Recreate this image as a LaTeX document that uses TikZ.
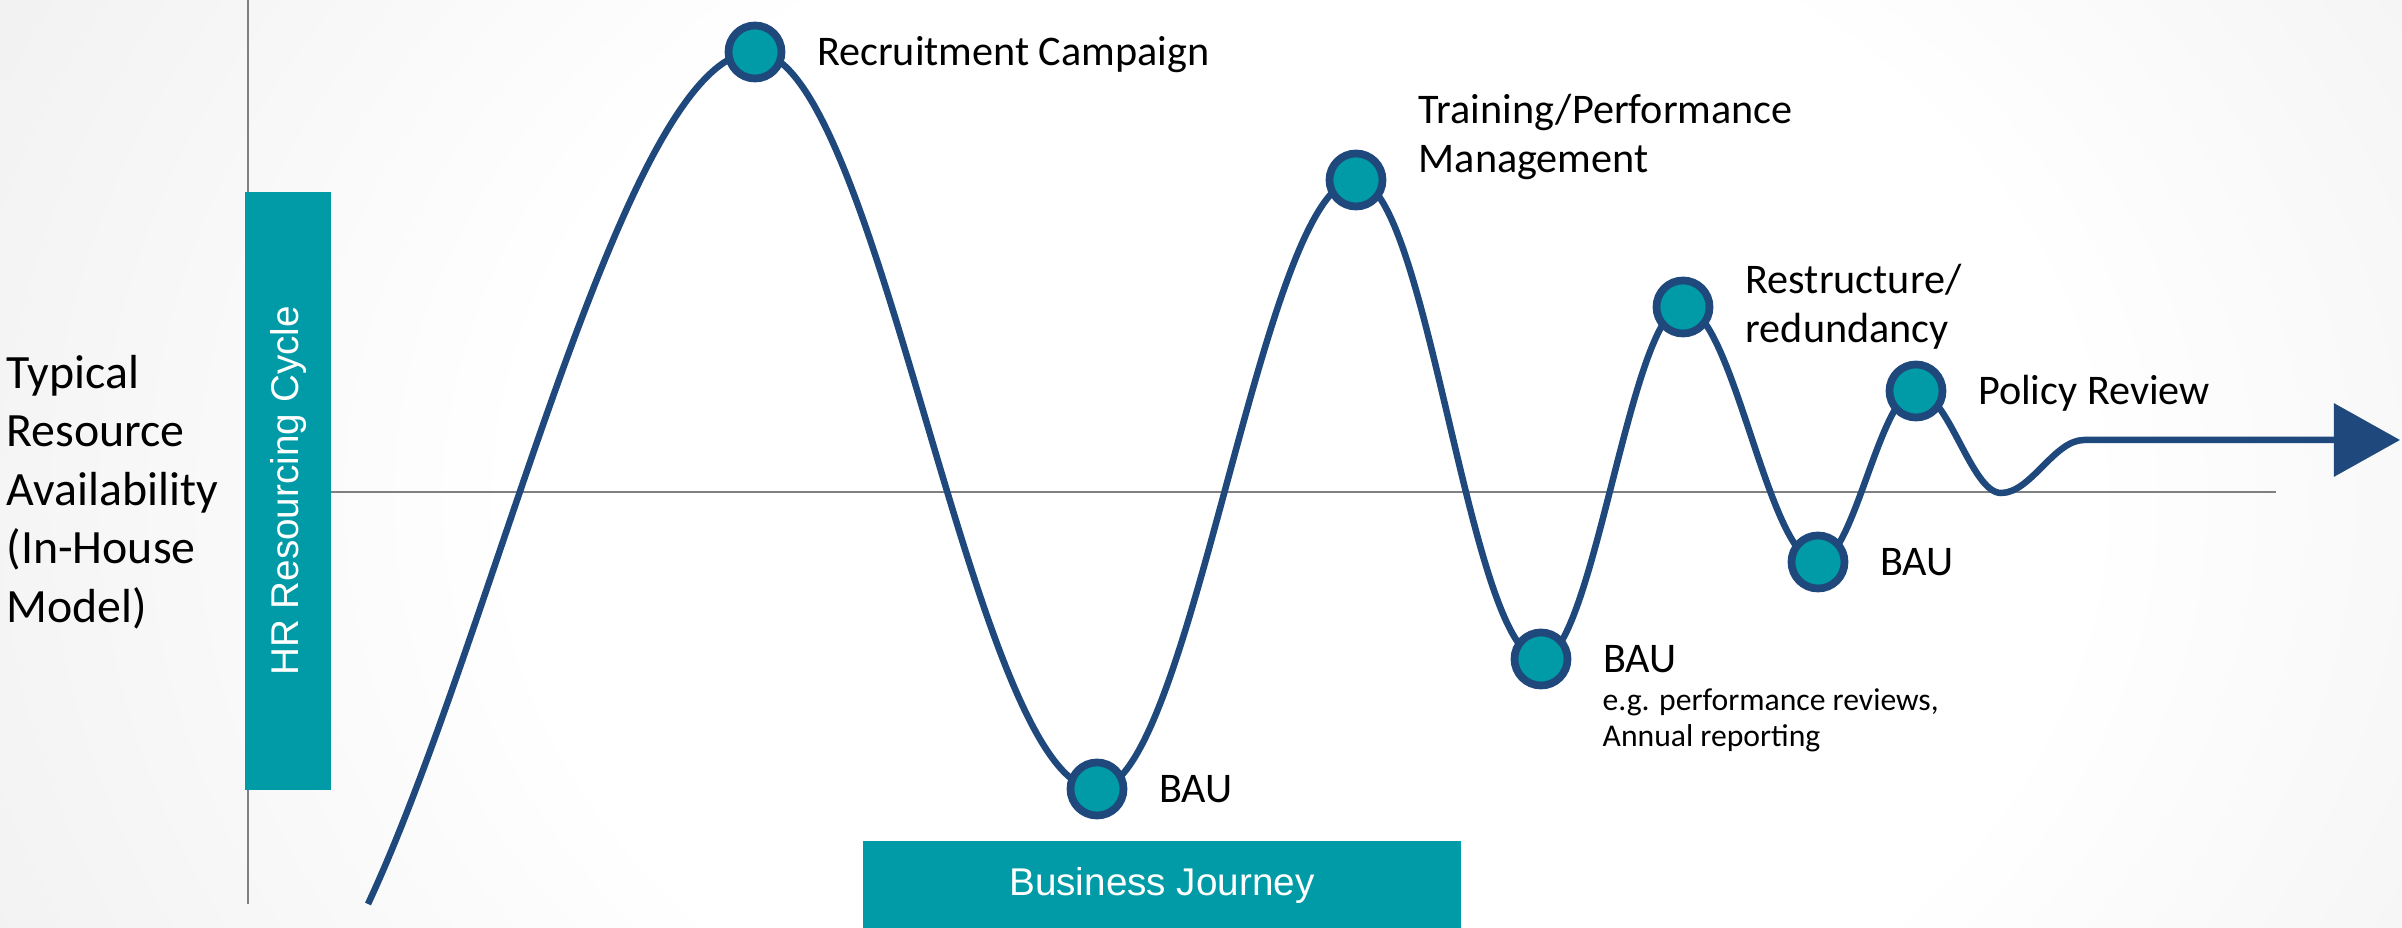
\documentclass[tikz,border=0pt]{standalone}
\usepackage{fontspec}
\setmainfont{Carlito}
\newfontfamily\arialfont{Liberation Sans}
\usetikzlibrary{positioning}
\usetikzlibrary{arrows.meta}
\usetikzlibrary{backgrounds}
\definecolor{journeyblue}{RGB}{31,73,125}
\definecolor{milestoneteal}{RGB}{0,155,166}
\definecolor{axisgray}{RGB}{128,128,128}
\definecolor{fadegray}{RGB}{214,214,214}
\pgfdeclareradialshading{pagefade}{\pgfpoint{0bp}{0bp}}{color(0bp)=(white); color(14bp)=(white); color(50bp)=(fadegray)}
\tikzset{milestone/.style={ % Teal dots sitting on the curve
      circle, draw=journeyblue, fill=milestoneteal,
      line width=2.2pt, minimum size=0.53cm, inner sep=0pt},
      stage/.style={inner sep=0pt, align=left, font=\fontsize{12}{14.2}\selectfont},
      caplabel/.style={stage, text height=7.7pt, text depth=0pt}, % Centres the capitals on the dot
      band/.style={fill=milestoneteal, text=white, inner sep=0pt,
      font=\arialfont\fontsize{11}{13}\selectfont},
      axisline/.style={draw=axisgray, line width=0.65pt},
      journey/.style={draw=journeyblue, line width=1.85pt,
      -{Triangle[length=0.66cm, width=0.72cm]}}}

\begin{document}
\begin{tikzpicture}[x=0.01cm, y=-0.01cm] % One unit is one pixel, y runs downwards
      \useasboundingbox (0,0) rectangle (2402,928);
      \begin{scope}[on background layer]
            \clip (0,0) rectangle (2402,928);
            \shade[shading=pagefade] (-100,-600) rectangle (2700,1600);
            \draw[axisline] (248,0) -- (248,904);
            \draw[axisline] (331,492) -- (2276,492);
      \end{scope}
      \node[band, rotate=90, minimum width=5.98cm, minimum height=0.86cm] (hrbox) at (288,491) {HR Resourcing Cycle};
      \node[band, minimum width=5.97cm, minimum height=0.88cm] (journeybox) at (1162,885) {Business Journey};
      \node[anchor=west, align=left, inner sep=0pt, font=\fontsize{13.6}{16.6}\selectfont] (ylabel) at (6,492)
            {Typical\\Resource\\Availability\\(In-House\\Model)};
      \coordinate (start) at (368,904);
      \node[milestone] (recruit) at (755,52) {};
      \node[milestone] (bau1) at (1097,789) {};
      \node[milestone] (training) at (1356,180) {};
      \node[milestone] (bau2) at (1541,659) {};
      \node[milestone] (restructure) at (1683,307) {};
      \node[milestone] (bau3) at (1818,562) {};
      \node[milestone] (policy) at (1916,391) {};
      \coordinate (settle) at (2001,493);
      \coordinate (level) at (2084,440);
      \coordinate (finish) at (2400,440);
      \begin{scope}[on background layer]
            \draw[journey] (start) .. controls +(127,-272) and +(-130,0) .. (recruit.center)
                  .. controls +(124,0) and +(-124,0) .. (bau1.center)
                  .. controls +(94,0) and +(-94,0) .. (training.center)
                  .. controls +(72,0) and +(-72,0) .. (bau2.center)
                  .. controls +(52,0) and +(-52,0) .. (restructure.center)
                  .. controls +(50,0) and +(-50,0) .. (bau3.center)
                  .. controls +(36,0) and +(-36,0) .. (policy.center)
                  .. controls +(32,0) and +(-30,0) .. (settle)
                  .. controls +(30,0) and +(-30,0) .. (level) -- (finish);
      \end{scope}
      \node[caplabel, right=0.31cm of recruit] (recruitlbl) {Recruitment Campaign};
      \node[caplabel, right=0.31cm of bau1] (bau1lbl) {BAU};
      \node[caplabel, right=0.31cm of bau2] (bau2lbl) {BAU};
      \node[caplabel, right=0.31cm of bau3] (bau3lbl) {BAU};
      \node[caplabel, right=0.31cm of policy] (policylbl) {Policy Review};
      % base of a multi-line node is the baseline of its last line
      \node[stage, anchor=base west] (traininglbl) at (1418,173) {Training/Performance\\Management};
      \node[stage, anchor=base west] (restructurelbl) at (1745,343) {Restructure/\\redundancy};
      \node[stage, anchor=base west, font=\fontsize{9}{10.3}\selectfont] (examplelbl) at (1602,747)
            {e.g. performance reviews,\\Annual reporting};
\end{tikzpicture}
\end{document}
